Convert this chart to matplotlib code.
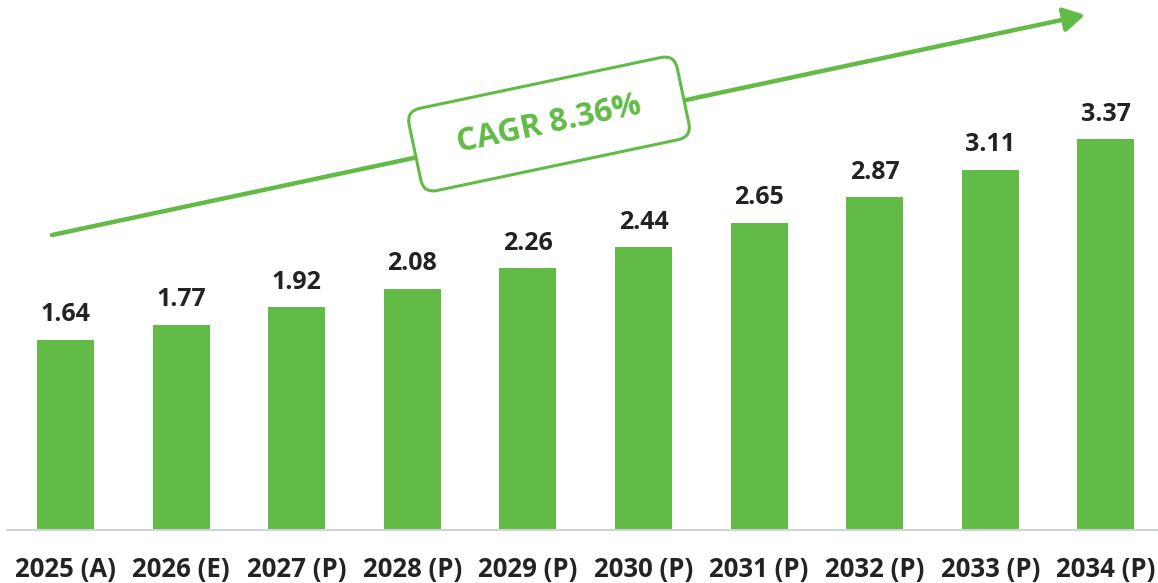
import matplotlib
matplotlib.use("Agg")
import matplotlib.pyplot as plt
from matplotlib.patches import FancyBboxPatch, FancyArrowPatch
from matplotlib.transforms import Affine2D

categories = ["2025 (A)", "2026 (E)", "2027 (P)", "2028 (P)", "2029 (P)",
              "2030 (P)", "2031 (P)", "2032 (P)", "2033 (P)", "2034 (P)"]
values = [1.64, 1.77, 1.92, 2.08, 2.26, 2.44, 2.65, 2.87, 3.11, 3.37]
cagr_text = "CAGR 8.36%"

GREEN = "#62BB46"
DARK = "#222326"
W, H = 1158, 583
plt.rcParams['font.family'] = ['Open Sans', 'DejaVu Sans']

fig = plt.figure(figsize=(W / 100, H / 100), dpi=100)
ax = fig.add_axes([7 / W, 53 / H, 1151 / W, 530 / H])
x = list(range(len(values)))
ax.bar(x, values, width=0.493, color=GREEN, zorder=2)
ax.set_xlim(-0.506, 9.45)
ax.set_ylim(0, 530 / 115.9)
for s in ["top", "right", "left"]:
    ax.spines[s].set_visible(False)
ax.spines["bottom"].set_color("#d0d3d8")
ax.spines["bottom"].set_linewidth(1.5)
ax.set_yticks([])
ax.set_xticks(x)
ax.set_xticklabels(categories, fontsize=18.5, fontweight='bold', color=DARK)
ax.tick_params(axis='x', length=0, pad=19)
for xi, v in zip(x, values):
    ax.annotate(f"{v:.2f}", (xi, v), xytext=(0, 9), textcoords="offset points",
                ha='center', va='bottom', fontsize=18, fontweight='bold', color=DARK)

# pixel transform (y up)
pix = Affine2D().scale(1 / W, 1 / H) + fig.transFigure

# arrow
x0, y0 = 52, H - 235
x1, y1 = 1085, H - 15
arr = FancyArrowPatch((x0, y0), (x1, y1), transform=pix,
                      arrowstyle="-|>,head_length=8,head_width=4.6",
                      mutation_scale=1.6, color=GREEN, lw=3.2, shrinkA=0, shrinkB=0)
fig.add_artist(arr)

# box
cx, cy = 549, H - 124
angle = 11.9
bw, bh = 274, 84
rot = Affine2D().rotate_deg_around(cx, cy, angle) + pix
box = FancyBboxPatch((cx - bw / 2, cy - bh / 2), bw, bh,
                     boxstyle="round,pad=0,rounding_size=14",
                     transform=rot, fc="white", ec=GREEN, lw=2.2, zorder=5)
fig.add_artist(box)
fig.text(cx / W, cy / H, cagr_text, rotation=angle, rotation_mode='anchor',
         ha='center', va='center', fontsize=23, fontweight='bold', color=GREEN, zorder=6)

fig.savefig("out.png", dpi=100)
